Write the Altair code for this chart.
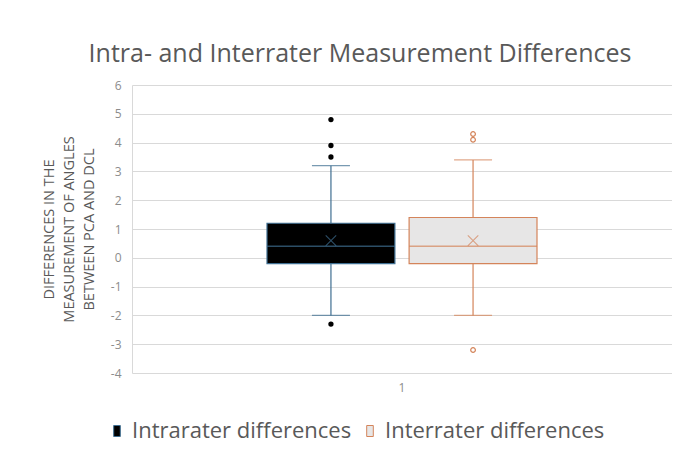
import altair as alt
import pandas as pd

# ---- data ----
series = ["Intrarater differences", "Interrater differences"]
category = ["1", "1"]
whisker_low = [-2.0, -2.0]
q1 = [-0.2, -0.2]
median = [0.4, 0.4]
mean = [0.6, 0.6]
q3 = [1.2, 1.4]
whisker_high = [3.2, 3.4]

outliers_intra = [4.8, 3.9, 3.5, -2.3]
outliers_inter = [4.3, 4.1, -3.2]

y_ticks = [-4, -3, -2, -1, 0, 1, 2, 3, 4, 5, 6]

fill_colors = ["#000000", "#e7e6e6"]
stroke_colors = ["#3f6f92", "#d4845a"]

boxes = pd.DataFrame({
    "cat": category, "series": series, "lo": whisker_low, "q1": q1,
    "median": median, "mean": mean, "q3": q3, "hi": whisker_high,
})
outl = pd.DataFrame({
    "cat": ["1"] * (len(outliers_intra) + len(outliers_inter)),
    "series": [series[0]] * len(outliers_intra) + [series[1]] * len(outliers_inter),
    "value": outliers_intra + outliers_inter,
})

FONT = "Open Sans"

x_axis = alt.Axis(title=None, labelAngle=0, labelColor="#8c8c8c",
                  labelFontSize=12, labelPadding=9, ticks=False,
                  domain=False, grid=False)
x_scale = alt.Scale(paddingOuter=0.5, paddingInner=0)
xo_enc = alt.XOffset("series:N", scale=alt.Scale(domain=series, paddingInner=0.1),
                     sort=series)
y_scale = alt.Scale(domain=[-4, 6], nice=False, zero=False)
fill_scale = alt.Scale(domain=series, range=fill_colors)
stroke_scale = alt.Scale(domain=series, range=stroke_colors)

y_axis = alt.Axis(
    values=y_ticks, tickCount=len(y_ticks) + 2, labelOverlap=False,
    labelExpr="'' + datum.value",
    title=["DIFFERENCES IN THE", "MEASUREMENT OF ANGLES", "BETWEEN PCA AND DCL"],
    titleFontSize=14.5, titleColor="#595959", titleFontWeight="normal",
    titleLineHeight=20, titlePadding=14,
    labelColor="#8c8c8c", labelFontSize=12, labelPadding=11,
    ticks=False, domain=True, domainColor="#d9d9d9",
    grid=True, gridColor="#d9d9d9", gridWidth=1,
)


def X():
    return alt.X("cat:N", scale=x_scale, axis=x_axis)


def Y(field):
    return alt.Y(field, scale=y_scale, axis=y_axis)


base = alt.Chart(boxes)

box = base.mark_bar(strokeWidth=1.2).encode(
    x=X(), xOffset=xo_enc,
    y=Y("q1:Q"),
    y2="q3:Q",
    fill=alt.Fill("series:N", scale=fill_scale, sort=series,
                  legend=alt.Legend(title=None)),
    stroke=alt.Stroke("series:N", scale=stroke_scale, sort=series,
                      legend=alt.Legend(title=None)),
)

whisk_lo = base.mark_rule(strokeWidth=1.2).encode(
    x=X(), xOffset=xo_enc, y=Y("lo:Q"), y2="q1:Q",
    stroke=alt.Stroke("series:N", scale=stroke_scale, sort=series),
)
whisk_hi = base.mark_rule(strokeWidth=1.2).encode(
    x=X(), xOffset=xo_enc, y=Y("q3:Q"), y2="hi:Q",
    stroke=alt.Stroke("series:N", scale=stroke_scale, sort=series),
)
cap_lo = base.mark_tick(size=38, thickness=1.3, orient="horizontal").encode(
    x=X(), xOffset=xo_enc, y=Y("lo:Q"),
    color=alt.Color("series:N", scale=stroke_scale, sort=series, legend=None),
)
cap_hi = base.mark_tick(size=38, thickness=1.3, orient="horizontal").encode(
    x=X(), xOffset=xo_enc, y=Y("hi:Q"),
    color=alt.Color("series:N", scale=stroke_scale, sort=series, legend=None),
)
med = base.mark_tick(size=128, thickness=1.4, orient="horizontal").encode(
    x=X(), xOffset=xo_enc, y=Y("median:Q"),
    color=alt.Color("series:N", scale=stroke_scale, sort=series, legend=None),
)
mean_pt = base.mark_point(shape="M-1,-1L1,1M1,-1L-1,1", size=110, filled=False,
                          strokeWidth=1.1).encode(
    x=X(), xOffset=xo_enc, y=Y("mean:Q"),
    color=alt.Color("series:N", scale=stroke_scale, sort=series, legend=None),
)

out_intra = alt.Chart(outl).transform_filter(
    alt.datum.series == series[0]
).mark_circle(size=28, color="#000000", opacity=1).encode(
    x=X(), xOffset=xo_enc, y=Y("value:Q"),
)
out_inter = alt.Chart(outl).transform_filter(
    alt.datum.series == series[1]
).mark_point(size=22, filled=False, strokeWidth=1.2, color="#d4845a", opacity=1).encode(
    x=X(), xOffset=xo_enc, y=Y("value:Q"),
)

chart = alt.layer(
    box, whisk_lo, whisk_hi, cap_lo, cap_hi, med, mean_pt, out_intra, out_inter
).properties(
    width=540, height=288,
    autosize=alt.AutoSizeParams(type="none"),
    padding={"left": 124, "top": 77, "right": 0, "bottom": 81},
    title=alt.TitleParams(
        "Intra- and Interrater Measurement Differences",
        font=FONT, fontSize=25, fontWeight="normal", color="#595959",
        anchor="middle", dx=-42, offset=12,
    ),
).configure(
    font=FONT, background="#ffffff",
).configure_view(
    stroke=None,
).configure_axis(
    labelFont=FONT, titleFont=FONT,
).configure_legend(
    orient="none", legendX=-26, legendY=335, direction="horizontal",
    symbolType="M-0.6,-1H0.6V1H-0.6Z", symbolSize=121, symbolStrokeWidth=1,
    labelFont=FONT, labelFontSize=22, labelColor="#595959", labelLimit=400,
    labelOffset=4, columnPadding=7, padding=0,
)

chart.save("out.html", embed_options={"renderer": "svg", "actions": False})
